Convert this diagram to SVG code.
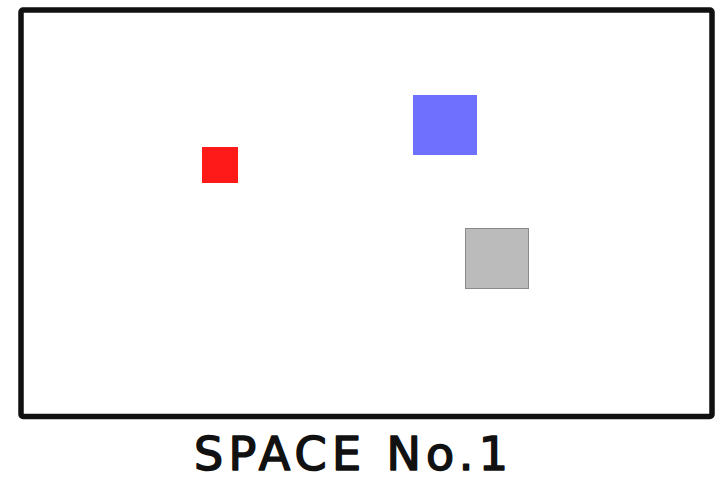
<svg xmlns="http://www.w3.org/2000/svg" width="720" height="480" viewBox="0 0 720 480">
<style>
.frame{fill:#fff;stroke:#111;stroke-width:5.5;stroke-linejoin:round}
.lbl{font-family:"DejaVu Sans",sans-serif;font-size:46px;fill:#111;stroke:#111;stroke-width:1.6;stroke-linejoin:round}
</style>
<rect width="720" height="480" fill="#fff"/>
<g id="space">
<rect class="frame" x="21" y="10" width="691" height="406.5" rx="2"/>
</g>
<g id="red-square"><rect x="202" y="147" width="36" height="36" fill="#ff1a1a"/></g>
<g id="blue-square"><rect x="413" y="95" width="64" height="60" fill="#7070ff"/></g>
<g id="gray-square"><rect x="465.5" y="228.5" width="63" height="60" fill="#bbbbbb" stroke="#8a8a8a" stroke-width="1"/></g>
<g id="label"><text class="lbl" x="194" y="470" textLength="314" lengthAdjust="spacing">SPACE No.1</text></g>
</svg>
